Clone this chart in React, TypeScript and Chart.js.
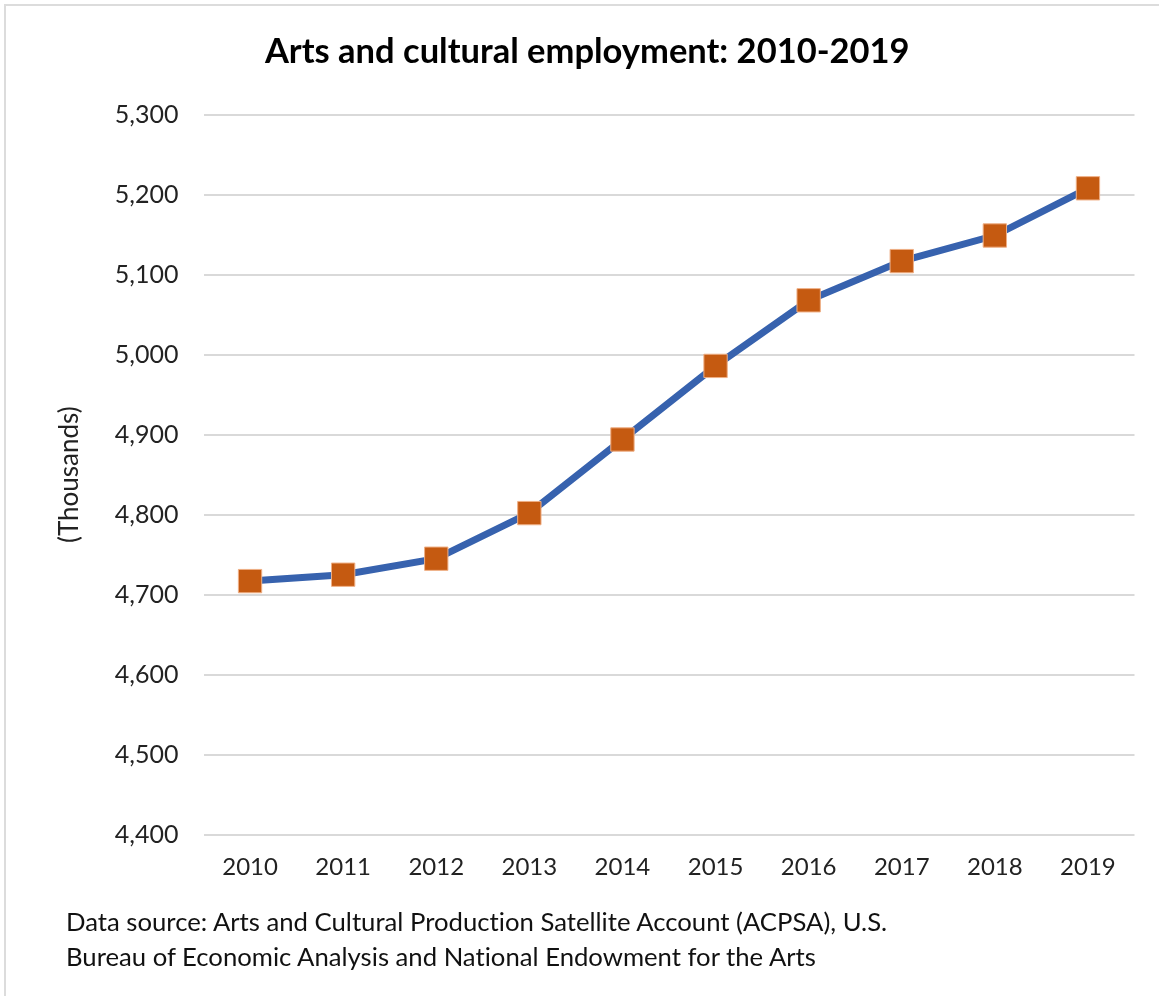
import React, { useEffect, useRef } from "react";
import { Chart, registerables } from "chart.js";

Chart.register(...registerables);

const categories = ["2010", "2011", "2012", "2013", "2014", "2015", "2016", "2017", "2018", "2019"];
const employment = [4717, 4725, 4745, 4802, 4894, 4986, 5068, 5117, 5149, 5208];
const titleText = "Arts and cultural employment: 2010-2019";
const yAxisTitle = "(Thousands)";
const sourceLines = [
  "Data source: Arts and Cultural Production Satellite Account (ACPSA), U.S.",
  "Bureau of Economic Analysis and National Endowment for the Arts",
];

const FONT = "Lato, 'Open Sans', sans-serif";

export default function App() {
  const ref = useRef<HTMLCanvasElement | null>(null);

  useEffect(() => {
    if (!ref.current) return;
    const chart = new Chart(ref.current, {
      type: "line",
      data: {
        labels: categories,
        datasets: [
          {
            data: employment,
            borderColor: "#3762AE",
            borderWidth: 7,
            pointStyle: "rect",
            pointRadius: 16.5,
            pointHoverRadius: 16.5,
            pointBackgroundColor: "#C55A11",
            pointBorderColor: "#EFAF85",
            pointBorderWidth: 1,
            tension: 0,
            fill: false,
          },
        ],
      },
      options: {
        animation: false,
        responsive: false,
        maintainAspectRatio: false,
        layout: { padding: { left: 40, right: 24.5, top: 0, bottom: 101 } },
        plugins: {
          legend: { display: false },
          tooltip: { enabled: false },
          title: {
            display: true,
            text: titleText,
            color: "#000",
            font: { family: FONT, size: 34.5, weight: "bold", lineHeight: 1.2 },
            padding: { top: 31.5, bottom: 41.8 },
          },
        },
        scales: {
          x: {
            offset: true,
            grid: { display: false, drawTicks: false },
            border: { display: false },
            ticks: {
              color: "#222",
              padding: 18,
              font: { family: FONT, size: 24 },
              maxRotation: 0,
            },
            afterFit: (scale: any) => {
              scale.height = 60.3;
            },
          },
          y: {
            min: 4400,
            max: 5300,
            grid: { color: "#D9D9D9", lineWidth: 2, drawTicks: false },
            border: { display: false },
            ticks: {
              stepSize: 100,
              color: "#222",
              padding: 25,
              font: { family: FONT, size: 25 },
              callback: (v: any) => Number(v).toLocaleString("en-US"),
            },
            title: {
              display: true,
              text: yAxisTitle,
              color: "#222",
              font: { family: FONT, size: 26, lineHeight: 1.2 },
              padding: { top: 14.4, bottom: 0 },
            },
            afterFit: (scale: any) => {
              scale.width = 163.5;
            },
          },
        },
      },
    });
    return () => chart.destroy();
  }, []);

  return (
    <div style={{ position: "fixed", left: 0, top: 0, width: 1159, height: 996, background: "#fff", overflow: "hidden" }}>
      <div
        style={{
          position: "absolute",
          left: 4,
          top: 4,
          width: 1300,
          height: 1200,
          border: "2px solid #DCDCDC",
          boxSizing: "border-box",
        }}
      />
      <canvas ref={ref} width={1159} height={996} style={{ position: "absolute", left: 0, top: 0 }} />
      <div
        style={{
          position: "absolute",
          left: 66,
          top: 904,
          fontFamily: FONT,
          fontSize: 25.7,
          lineHeight: "35px",
          color: "#111",
          whiteSpace: "nowrap",
          fontVariantLigatures: "none",
        }}
      >
        {sourceLines.map((l, i) => (
          <div key={i}>{l}</div>
        ))}
      </div>
    </div>
  );
}
